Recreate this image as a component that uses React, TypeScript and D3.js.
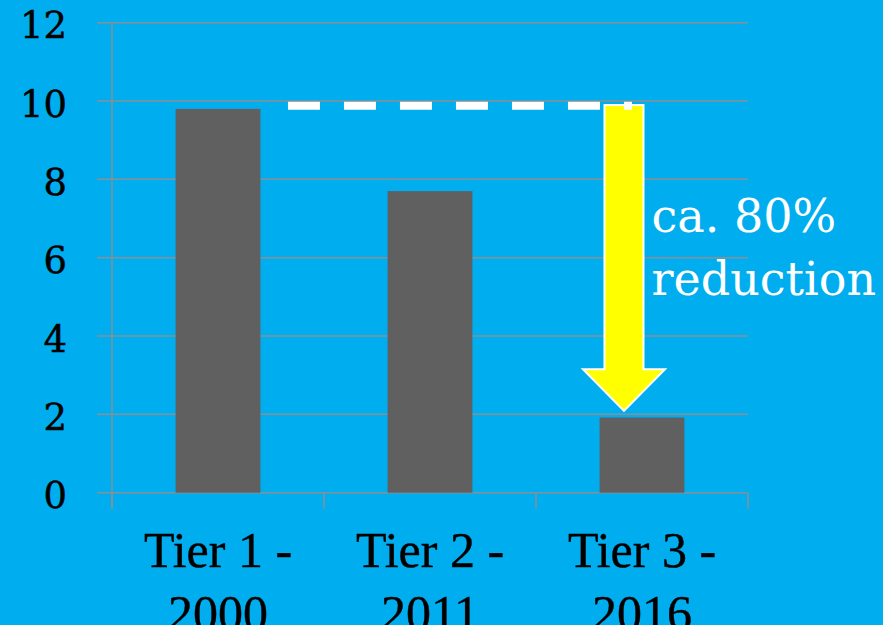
import React from "react";
import * as d3 from "d3";

// Emission limits by regulatory tier
const categories = ["Tier 1 - 2000", "Tier 2 - 2011", "Tier 3 - 2016"];
const categoryLines = [
  ["Tier 1 -", "2000"],
  ["Tier 2 -", "2011"],
  ["Tier 3 -", "2016"],
];
const values = [9.8, 7.7, 1.92];
const yTicks = [0, 2, 4, 6, 8, 10, 12];

// Annotation anchors, in data units (x in category slots, y in chart units)
const referenceLevel = 9.88;
const referenceFrom = 0.83;
const referenceTo = 2.453;
const arrowX = 2.415;
const arrowTop = 9.9;
const arrowHeadStart = 3.15;
const arrowTip = 2.09;
const noteLines = ["ca. 80%", "reduction"];
const noteBaselines = [6.66, 5.05];

const W = 883;
const H = 625;
const left = 112;
const right = 748;
const top = 22.7;
const bottom = 492.7;

const BG = "#00AEEF";
const BAR = "#606060";
const GRID = "#8a8f95";
const tickFont = "'DejaVu Serif', serif";
const catFont = "'Liberation Serif', serif";

export default function App() {
  const x = d3
    .scaleBand<string>()
    .domain(categories)
    .range([left, right])
    .paddingInner(0.6)
    .paddingOuter(0.3);
  const slot = d3.scaleLinear().domain([0, categories.length]).range([left, right]);
  const y = d3.scaleLinear().domain([0, 12]).range([bottom, top]);

  const cx = slot(arrowX);
  const shaftHalf = 19.5;
  const headHalf = 41;
  const arrowPath = d3.path();
  arrowPath.moveTo(cx - shaftHalf, y(arrowTop));
  arrowPath.lineTo(cx + shaftHalf, y(arrowTop));
  arrowPath.lineTo(cx + shaftHalf, y(arrowHeadStart));
  arrowPath.lineTo(cx + headHalf, y(arrowHeadStart));
  arrowPath.lineTo(cx, y(arrowTip));
  arrowPath.lineTo(cx - headHalf, y(arrowHeadStart));
  arrowPath.lineTo(cx - shaftHalf, y(arrowHeadStart));
  arrowPath.closePath();

  const catTicks = d3.range(categories.length + 1).map((i) => slot(i));

  return (
    <>
      <style>{`body{margin:0;background:${BG};}`}</style>
      <svg width={W} height={H} style={{ display: "block" }}>
        <rect x={0} y={0} width={W} height={H} fill={BG} />

        {/* horizontal gridlines with left tick stubs */}
        {yTicks.map((t) => (
          <line
            key={`g${t}`}
            x1={left - 15}
            x2={right}
            y1={y(t)}
            y2={y(t)}
            stroke={GRID}
            strokeWidth={1.5}
          />
        ))}

        {/* value axis */}
        <line x1={left} x2={left} y1={y(12)} y2={bottom + 16} stroke={GRID} strokeWidth={1.5} />

        {/* category separators */}
        {catTicks.map((cxv, i) => (
          <line
            key={`c${i}`}
            x1={cxv}
            x2={cxv}
            y1={bottom}
            y2={bottom + 16}
            stroke={GRID}
            strokeWidth={1.5}
          />
        ))}

        {/* tick labels */}
        {yTicks.map((t) => (
          <text
            key={`t${t}`}
            x={67}
            y={y(t) + 15.5}
            textAnchor="end"
            fontFamily={tickFont}
            fontSize={37}
            fill="#000"
            stroke="#000"
            strokeWidth={0.5}
          >
            {t}
          </text>
        ))}

        {/* bars */}
        {categories.map((c, i) => (
          <rect
            key={c}
            x={x(c)}
            y={y(values[i])}
            width={x.bandwidth()}
            height={bottom - y(values[i])}
            fill={BAR}
          />
        ))}

        {/* category labels */}
        {categories.map((c, i) => (
          <text
            key={`l${c}`}
            textAnchor="middle"
            fontFamily={catFont}
            fontSize={50}
            fill="#000"
            stroke="#000"
            strokeWidth={0.4}
          >
            {categoryLines[i].map((ln, j) => (
              <tspan key={j} x={(x(c) as number) + x.bandwidth() / 2} y={566.7 + j * 63.5}>
                {ln}
              </tspan>
            ))}
          </text>
        ))}

        {/* reduction arrow */}
        <path d={arrowPath.toString()} fill="#FFFF00" stroke="#fff" strokeWidth={2} strokeLinejoin="miter" />

        {/* reference level from Tier 1 */}
        <line
          x1={slot(referenceFrom)}
          x2={slot(referenceTo)}
          y1={y(referenceLevel)}
          y2={y(referenceLevel)}
          stroke="#fff"
          strokeWidth={8}
          strokeDasharray="32 24"
        />

        {/* annotation */}
        {noteLines.map((ln, i) => (
          <text
            key={ln}
            x={cx + shaftHalf + 8}
            y={y(noteBaselines[i])}
            fontFamily={tickFont}
            fontSize={46}
            fill="#fff"
          >
            {ln}
          </text>
        ))}
      </svg>
    </>
  );
}
